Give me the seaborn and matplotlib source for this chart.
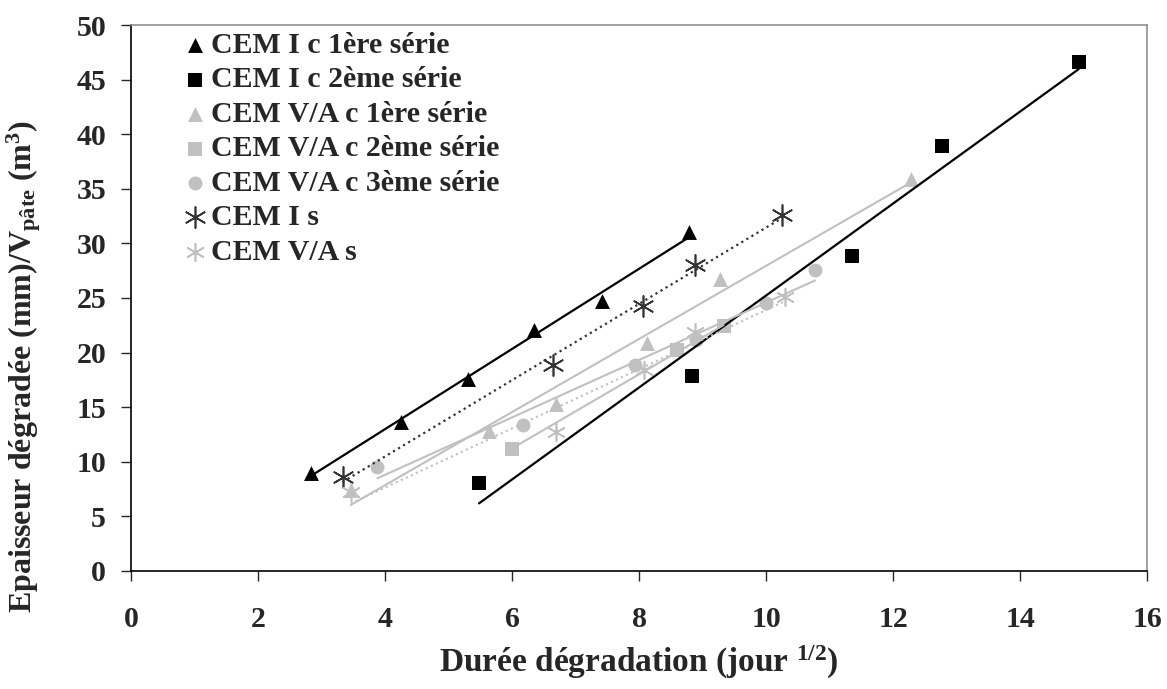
import matplotlib
matplotlib.use('Agg')
import matplotlib.pyplot as plt
import seaborn as sns

# values (x = jour^1/2, y = épaisseur dégradée / V pâte)
cem1_s1_x = [2.83, 4.25, 5.30, 6.34, 7.41, 8.78]
cem1_s1_y = [9.0, 13.6, 17.6, 22.1, 24.7, 31.0]

cem1_s2_x = [5.48, 8.83, 11.36, 12.77, 14.92]
cem1_s2_y = [8.1, 17.9, 28.8, 38.9, 46.6]

cem5_s1_x = [3.46, 5.64, 6.69, 8.12, 9.27, 12.28]
cem5_s1_y = [7.4, 12.8, 15.3, 20.9, 26.7, 35.9]

cem5_s2_x = [6.0, 8.6, 9.33]
cem5_s2_y = [11.2, 20.2, 22.4]

cem5_s3_x = [3.88, 6.17, 7.94, 8.9, 10.0, 10.77]
cem5_s3_y = [9.5, 13.4, 18.9, 21.15, 24.5, 27.6]

cem1_s_x = [3.33, 6.64, 8.06, 8.88, 10.25]
cem1_s_y = [8.6, 18.9, 24.3, 28.0, 32.6]

cem5_s_x = [3.46, 6.69, 8.07, 8.88, 10.3]
cem5_s_y = [7.2, 12.75, 18.4, 21.9, 25.1]

sns.set_style('white')
plt.rcParams['font.family'] = ['Liberation Serif', 'DejaVu Serif']
plt.rcParams['font.weight'] = 'bold'
plt.rcParams['mathtext.fontset'] = 'custom'
plt.rcParams['mathtext.rm'] = 'Liberation Serif:bold'
plt.rcParams['mathtext.it'] = 'Liberation Serif:bold'
plt.rcParams['mathtext.bf'] = 'Liberation Serif:bold'

fig, ax = plt.subplots(figsize=(11.67, 6.89), dpi=100)
fig.subplots_adjust(left=0.1123, right=0.983, top=0.9637, bottom=0.1713)

gray = '#c0c0c0'
series = [
    (cem1_s1_x, cem1_s1_y, 'CEM I c 1ère série', '^', 'black', '-', 115, 0),
    (cem1_s2_x, cem1_s2_y, 'CEM I c 2ème série', 's', 'black', '-', 95, 0),
    (cem5_s1_x, cem5_s1_y, 'CEM V/A c 1ère série', '^', gray, '-', 115, 0),
    (cem5_s2_x, cem5_s2_y, 'CEM V/A c 2ème série', 's', gray, '-', 95, 0),
    (cem5_s3_x, cem5_s3_y, 'CEM V/A c 3ème série', 'o', gray, '-', 100, 0),
    (cem1_s_x, cem1_s_y, 'CEM I s', (6, 2, 0), '#333333', ':', 230, 1.2),
    (cem5_s_x, cem5_s_y, 'CEM V/A s', (6, 2, 0), gray, ':', 160, 1.2),
]

# points + linear trend over each series' own range
for x, y, name, mk, col, ls, size, lw in series:
    sns.regplot(x=x, y=y, ax=ax, ci=None, truncate=True, marker=mk, color=col,
                label=name,
                scatter_kws={'s': size, 'alpha': 1, 'linewidths': lw},
                line_kws={'ls': ls, 'lw': 1.6 if col != gray else 1.5})

ax.set_xlim(0, 16)
ax.set_ylim(0, 50)
ax.set_xticks(range(0, 17, 2))
ax.set_yticks(range(0, 51, 5))
ax.tick_params(axis='both', labelsize=21.5, direction='out', length=7, width=1,
               bottom=True, left=True)
ax.tick_params(axis='x', pad=18)
ax.tick_params(axis='y', pad=11)
for lbl in ax.get_xticklabels() + ax.get_yticklabels():
    lbl.set_fontweight('bold')

for side in ['left', 'bottom']:
    ax.spines[side].set_color('black')
    ax.spines[side].set_linewidth(1.2)
for side in ['top', 'right']:
    ax.spines[side].set_color('#909090')
    ax.spines[side].set_linewidth(1.2)

ax.set_xlabel('Durée dégradation (jour $^{1/2}$)', fontsize=24, fontweight='bold', labelpad=8)
ax.set_ylabel('Epaisseur dégradée (mm)/V$_{\\mathrm{pâte}}$ (m$^3$)', fontsize=23,
              fontweight='bold')
ax.yaxis.set_label_coords(-0.087, 0.375)

ax.legend(loc='upper left', bbox_to_anchor=(0.0305, 1.02), frameon=False,
          prop={'family': 'Liberation Serif', 'weight': 'bold', 'size': 21.5},
          handletextpad=0.05, labelspacing=0.25, borderaxespad=0.2,
          handlelength=1.0)

fig.savefig('out.png', dpi=100)
